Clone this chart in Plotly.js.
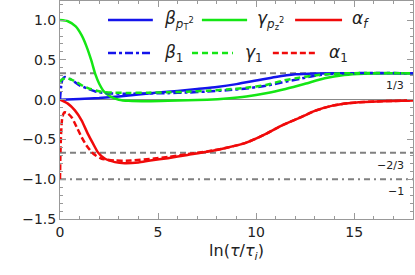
<!DOCTYPE html>
<html><head><meta charset="utf-8">
<script src="https://cdn.plot.ly/plotly-3.0.1.min.js"></script>
<style>html,body{margin:0;padding:0;background:#fff}#chart{width:415px;height:275px}</style>
</head><body><div id="chart"></div>
<script>
// beta_{pT^2} (blue solid)
const betaPT2X = [0,1,2,3,4,5,6,7,8,9,10,11,12,13,14,16,18];
const betaPT2Y = [0,0.008,0.02,0.04,0.065,0.09,0.11,0.135,0.16,0.195,0.24,0.285,0.318,0.33,0.333,0.333,0.333];
// gamma_{pz^2} (green solid)
const gammaPz2X = [0,0.4,0.8,1.1,1.35,1.6,1.8,2.0,2.25,2.6,3.0,3.5,4.5,5.5,6.5,7.5,8.5,9.5,10.5,11.5,12.5,13.5,14.5,15.5,16.5,18];
const gammaPz2Y = [1.0,0.985,0.92,0.81,0.67,0.49,0.32,0.2,0.1,0.035,0.0,-0.015,-0.02,-0.015,-0.008,0.0,0.015,0.04,0.08,0.135,0.2,0.27,0.31,0.327,0.332,0.333];
// alpha_f (red solid)
const alphaFX = [0,0.4,0.76,1.1,1.42,1.68,1.93,2.28,2.8,3.3,4.0,4.6,5.5,6.5,7.5,8.5,9.5,10.5,11.3,12.2,13.0,13.9,14.7,15.5,16.4,18];
const alphaFY = [0,-0.05,-0.135,-0.26,-0.43,-0.55,-0.66,-0.74,-0.785,-0.8,-0.79,-0.765,-0.735,-0.695,-0.655,-0.605,-0.54,-0.43,-0.325,-0.23,-0.14,-0.075,-0.045,-0.03,-0.02,-0.01];
// beta_1 (blue dash-dot)
const beta1X = [0,0.05,0.12,0.25,0.5,0.76,1.0,1.4,1.9,2.6,3.5,4.5,5.5,6.5,7.5,8.5,9.5,10.5,11.3,12.2,13.0,13.9,15,18];
const beta1Y = [0,0.15,0.25,0.285,0.26,0.22,0.18,0.14,0.096,0.078,0.075,0.078,0.082,0.09,0.102,0.118,0.14,0.175,0.215,0.26,0.3,0.326,0.333,0.333];
// gamma_1 (green dashed)
const gamma1X = [0,0.08,0.3,0.5,0.85,1.2,1.6,2.1,2.7,3.5,4.5,5.5,6.5,7.5,8.5,9.5,10.5,11.3,12.2,13.0,13.9,15,18];
const gamma1Y = [0.22,0.25,0.27,0.26,0.22,0.17,0.13,0.1,0.088,0.085,0.088,0.093,0.1,0.112,0.128,0.15,0.185,0.235,0.277,0.305,0.326,0.333,0.333];
// alpha_1 (red dashed)
const alpha1X = [0,0.02,0.06,0.12,0.22,0.35,0.59,0.85,1.1,1.35,1.7,2.1,2.8,3.6,4.8,5.5,6.5,7.5,8.5,9.5,10.5,11.3,12.2,13.0,13.9,14.7,15.5,16.4,18];
const alpha1Y = [-1.0,-0.7,-0.4,-0.22,-0.16,-0.165,-0.22,-0.345,-0.47,-0.575,-0.68,-0.74,-0.765,-0.765,-0.74,-0.72,-0.685,-0.65,-0.605,-0.54,-0.43,-0.325,-0.23,-0.14,-0.075,-0.045,-0.03,-0.02,-0.01];
// reference levels
const refValues = [1/3, -2/3, -1];
const refLabels = ['1/3', '\u22122/3', '\u22121'];
const refDash = ['6px,4px', '6px,4px', '6px,4px,2px,4px'];

const BLUE = 'rgb(20,20,235)', GREEN = 'rgb(20,230,20)', RED = 'rgb(240,10,10)';
const LW = 2.5;
const mk = (x, y, color, dash) => ({x, y, type:'scatter', mode:'lines', line:{color, width:LW, dash, shape:'spline', smoothing:0.6}, showlegend:false, hoverinfo:'skip'});
const traces = [
  mk(betaPT2X, betaPT2Y, BLUE, 'solid'),
  mk(gammaPz2X, gammaPz2Y, GREEN, 'solid'),
  mk(alphaFX, alphaFY, RED, 'solid'),
  mk(beta1X, beta1Y, BLUE, '8px,3px,3px,3px'),
  mk(gamma1X, gamma1Y, GREEN, '6px,4px'),
  mk(alpha1X, alpha1Y, RED, '6px,3px')
];

const shapes = [];
const annotations = [];
refValues.forEach((v, i) => {
  shapes.push({type:'line', xref:'paper', yref:'y', x0:0, x1:1, y0:v, y1:v, line:{color:'rgb(128,128,128)', width:2, dash:refDash[i]}, layer:'below'});
  annotations.push({xref:'x', yref:'y', x:17.65, y:v, text:refLabels[i], showarrow:false, xanchor:'right', yanchor:'top', yshift:-4, font:{family:'DejaVu Sans', size:11, color:'#222'}});
});

// legend drawn as two rows of samples
const legendItems = [
  {x0:0.136, x1:0.263, tx:0.289, y:0.913, color:BLUE, dash:'solid', text:'<i>β</i><sub><i>p</i><sub>T</sub><sup>2</sup></sub>'},
  {x0:0.402, x1:0.530, tx:0.552, y:0.913, color:GREEN, dash:'solid', text:'<i>γ</i><sub><i>p</i><sub>z</sub><sup>2</sup></sub>'},
  {x0:0.666, x1:0.799, tx:0.822, y:0.913, color:RED, dash:'solid', text:'<i>α</i><sub><i>f</i></sub>'},
  {x0:0.136, x1:0.263, tx:0.289, y:0.761, color:BLUE, dash:'8px,3px,3px,3px', text:'<i>β</i><sub>1</sub>'},
  {x0:0.374, x1:0.490, tx:0.519, y:0.761, color:GREEN, dash:'6px,4px', text:'<i>γ</i><sub>1</sub>'},
  {x0:0.603, x1:0.728, tx:0.756, y:0.761, color:RED, dash:'6px,3px', text:'<i>α</i><sub>1</sub>'}
];
legendItems.forEach(it => {
  shapes.push({type:'line', xref:'paper', yref:'paper', x0:it.x0, x1:it.x1, y0:it.y, y1:it.y, line:{color:it.color, width:LW, dash:it.dash}});
  annotations.push({xref:'paper', yref:'paper', x:it.tx, y:it.y, text:it.text, showarrow:false, xanchor:'left', yanchor:'middle', font:{family:'DejaVu Sans', size:17, color:'#222'}});
});

const axisCommon = {
  showline:true, linecolor:'#999', linewidth:1, mirror:'ticks',
  ticks:'inside', ticklen:6, tickwidth:1, tickcolor:'#999',
  showgrid:false,
  tickfont:{family:'DejaVu Sans', size:14, color:'#222'}
};
const layout = {
  width:415, height:275,
  margin:{l:60, r:2, t:1, b:56},
  paper_bgcolor:'#fff', plot_bgcolor:'#fff',
  showlegend:false,
  xaxis:Object.assign({}, axisCommon, {
    range:[0,18], tick0:0, dtick:5, zeroline:false,
    minor:{dtick:1, ticks:'inside', ticklen:3, tickcolor:'#999', showgrid:false},
    title:{text:'ln(<i>τ</i>/<i>τ</i><sub><i>i</i></sub>)', font:{family:'DejaVu Sans', size:16, color:'#222'}, standoff:6}
  }),
  yaxis:Object.assign({}, axisCommon, {
    range:[-1.5,1.24], tick0:0, dtick:0.5, tickformat:'.1f',
    zeroline:true, zerolinecolor:'#888', zerolinewidth:1,
    minor:{dtick:0.1, ticks:'inside', ticklen:3, tickcolor:'#999', showgrid:false}
  }),
  shapes, annotations
};
Plotly.newPlot('chart', traces, layout, {staticPlot:true, displayModeBar:false});
</script></body></html>
